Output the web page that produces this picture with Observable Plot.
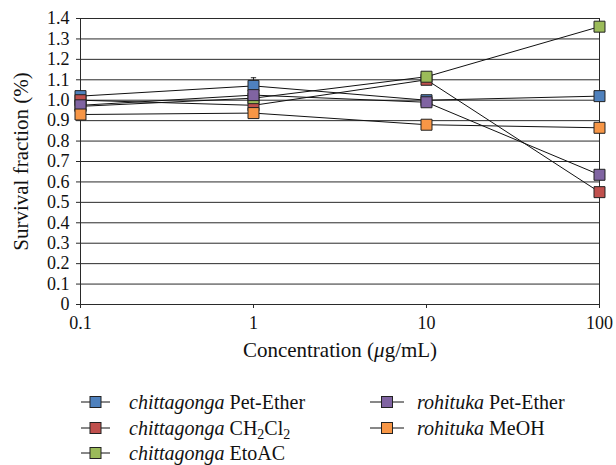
<!DOCTYPE html>
<html>
<head>
<meta charset="utf-8">
<script src="https://cdn.jsdelivr.net/npm/d3@7"></script>
<script src="https://cdn.jsdelivr.net/npm/@observablehq/plot@0.6"></script>
<style>
  html, body { margin: 0; padding: 0; background: #fff; }
  body { width: 616px; height: 465px; position: relative; font-family: "Liberation Serif", serif; }
  #chart { position: absolute; left: 0; top: 0; }
  #chart svg, #chart svg text, #chart svg g { font-family: "Liberation Serif", serif !important; }
  #legend { position: absolute; left: 0; top: 0; width: 616px; height: 465px; pointer-events: none; }
  .item { position: absolute; height: 24px; display: flex; align-items: center; font-size: 20px; color: #111; white-space: nowrap; }
  .item svg { flex: none; }
  .item i { margin-right: 5px; }
  sub { font-size: 0.7em; vertical-align: -0.25em; line-height: 0; }
</style>
</head>
<body>
<div id="chart"></div>
<div id="legend"></div>
<script>
// ---- data ----
const concentrations = [0.1, 1, 10, 100];
const xTickLabels = ["0.1", "1", "10", "100"];
const yTicks = [0, 0.1, 0.2, 0.3, 0.4, 0.5, 0.6, 0.7, 0.8, 0.9, 1.0, 1.1, 1.2, 1.3, 1.4];
const yTickLabels = ["0", "0.1", "0.2", "0.3", "0.4", "0.5", "0.6", "0.7", "0.8", "0.9", "1.0", "1.1", "1.2", "1.3", "1.4"];

const seriesSpecies = ["chittagonga", "chittagonga", "chittagonga", "rohituka", "rohituka"];
const seriesSolvents = ["Pet-Ether", "CH<sub>2</sub>Cl<sub>2</sub>", "EtoAC", "Pet-Ether", "MeOH"];
const seriesKeys = ["chittagonga Pet-Ether", "chittagonga CH2Cl2", "chittagonga EtoAC", "rohituka Pet-Ether", "rohituka MeOH"];
const seriesColors = ["#4F81BD", "#C0504D", "#9BBB59", "#8064A2", "#F79646"];

const chittagongaPetEther = [1.02, 1.07, 1.00, 1.02];
const chittagongaCH2Cl2   = [1.00, 0.975, 1.10, 0.55];
const chittagongaEtoAC    = [0.97, 1.01, 1.115, 1.36];
const rohitukaPetEther    = [0.975, 1.025, 0.99, 0.635];
const rohitukaMeOH        = [0.93, 0.937, 0.88, 0.865];
const chittagongaPetEtherError = [0, 0.04, 0, 0];

const seriesValues = [chittagongaPetEther, chittagongaCH2Cl2, chittagongaEtoAC, rohitukaPetEther, rohitukaMeOH];

// tidy table
const rows = [];
seriesKeys.forEach((k, i) => {
  concentrations.forEach((c, j) => {
    rows.push({series: k, idx: i, x: c, y: seriesValues[i][j],
      err: i === 0 ? chittagongaPetEtherError[j] : 0});
  });
});
const errRows = rows.filter(d => d.err > 0);

const capSymbol = {
  draw(ctx, size) {
    const r = Math.sqrt(size) / 2;
    ctx.moveTo(-r, 0);
    ctx.lineTo(r, 0);
  }
};

const fmtY = d => yTickLabels[yTicks.findIndex(t => Math.abs(t - d) < 1e-9)];
const fmtX = d => xTickLabels[concentrations.findIndex(t => Math.abs(t - d) < 1e-9)];

const plot = Plot.plot({
  width: 616,
  height: 375,
  marginLeft: 80,
  marginRight: 17,
  marginTop: 18,
  marginBottom: 71,
  style: {fontFamily: "Liberation Serif, serif", color: "#111", background: "#fff"},
  x: {type: "log", domain: [0.1, 100]},
  y: {domain: [0, 1.4]},
  color: {domain: seriesKeys, range: seriesColors},
  marks: [
    Plot.gridY(yTicks, {stroke: "#2a2a2a", strokeOpacity: 1, strokeWidth: 1}),
    Plot.ruleX([0.1, 100], {stroke: "#2a2a2a", strokeWidth: 1}),
    Plot.ruleY([0], {stroke: "#2a2a2a", strokeWidth: 1}),
    Plot.axisY({ticks: yTicks, tickFormat: fmtY, tickSize: 4, tickPadding: 7, fontSize: 18, label: null, stroke: "#2a2a2a"}),
    Plot.axisX({ticks: concentrations, tickFormat: fmtX, tickSize: 4, tickPadding: 8, fontSize: 18, label: null, stroke: "#2a2a2a"}),
    Plot.text(["Survival fraction (%)"], {frameAnchor: "left", textAnchor: "middle", lineAnchor: "middle", rotate: -90, dx: -59, fontSize: 21, fill: "#111"}),
    Plot.text(["Concentration (\u03BCg/mL)"], {frameAnchor: "bottom", lineAnchor: "middle", dy: 46, fontSize: 21, fill: "#111", className: "xtitle"}),
    Plot.line(rows, {x: "x", y: "y", z: "series", stroke: "#111", strokeWidth: 1}),
    Plot.ruleX(errRows, {x: "x", y1: "y", y2: d => d.y + d.err, stroke: "#222", strokeWidth: 1}),
    Plot.dot(errRows, {x: "x", y: d => d.y + d.err, symbol: capSymbol, r: 3, stroke: "#222", strokeWidth: 1}),
    Plot.dot(rows, {x: "x", y: "y", symbol: "square", r: 6.2, fill: "series", stroke: "#222", strokeWidth: 1})
  ]
});
document.getElementById("chart").appendChild(plot);

// italic mu in x-axis title
d3.select(plot).selectAll(".xtitle text").each(function() {
  const t = d3.select(this);
  t.text(null);
  t.append("tspan").text("Concentration (");
  t.append("tspan").attr("font-style", "italic").text("\u03BC");
  t.append("tspan").text("g/mL)");
});

// legend
const legendCols = [{lineX: 81, textX: 129}, {lineX: 370, textX: 417}];
const legendRowY = [402, 428, 453];
const legend = document.getElementById("legend");
seriesKeys.forEach((k, i) => {
  const col = i < 3 ? 0 : 1;
  const row = i < 3 ? i : i - 3;
  const div = document.createElement("div");
  div.className = "item";
  div.style.left = legendCols[col].lineX + "px";
  div.style.top = (legendRowY[row] - 12) + "px";
  const w = legendCols[col].textX - legendCols[col].lineX;
  const symW = col === 0 ? 29 : 34;
  div.innerHTML =
    `<svg width="${w}" height="24"><line x1="0" x2="${symW}" y1="12" y2="12" stroke="#111" stroke-width="1"/>` +
    `<rect x="${symW / 2 - 5.5}" y="6.5" width="11" height="11" fill="${seriesColors[i]}" stroke="#222" stroke-width="1"/></svg>` +
    `<span><i>${seriesSpecies[i]}</i>${seriesSolvents[i]}</span>`;
  legend.appendChild(div);
});
</script>
</body>
</html>
